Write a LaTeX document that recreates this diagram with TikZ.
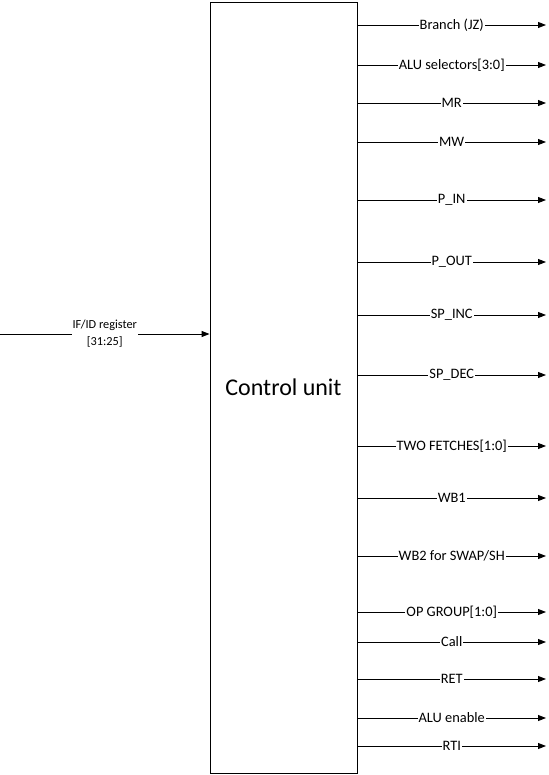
\documentclass[tikz,border=0pt]{standalone}
\usepackage{fontspec}
\setmainfont{Carlito}
\usetikzlibrary{arrows.meta}
\tikzset{
    sig/.style={->, line width=0.9pt},
    siglabel/.style={fill=white, inner sep=1pt, font=\fontsize{14.4}{17}\selectfont}
}

\begin{document}
\begin{tikzpicture}[x=1pt, y=-1pt, >={Triangle[length=8pt,width=6pt]}]
        \useasboundingbox (0,0) rectangle (548,775);
        \node[draw, line width=0.9pt, minimum width=147pt, minimum height=771pt, inner sep=0pt,
              font=\fontsize{24}{28}\selectfont] (cu) at (283.5,387.5) {Control unit};
        % input from the pipeline register
        \coordinate (in) at (0,334);
        \draw[sig] (in) -- (in -| cu.west)
            node[midway, siglabel, align=center, font=\fontsize{12.3}{17}\selectfont] (inlbl) {IF/ID register\\{}[31:25]};
        % control signals
        \foreach \y/\name [count=\i] in {25/Branch (JZ), 65/ALU selectors[3:0], 103/MR, 142/MW,
                200/P\_IN, 262/P\_OUT, 315/SP\_INC, 375/SP\_DEC, 446/TWO FETCHES[1:0], 498/WB1,
                556/{WB2 for SWAP/SH}, 612/OP GROUP[1:0], 642/Call, 679/RET, 718/ALU enable, 746/RTI}
        {
            \coordinate (out\i) at (546,\y);
            \draw[sig] (cu.east |- out\i) -- (out\i) node[midway, siglabel] (lbl\i) {\name};
        }
    \end{tikzpicture}
\end{document}
